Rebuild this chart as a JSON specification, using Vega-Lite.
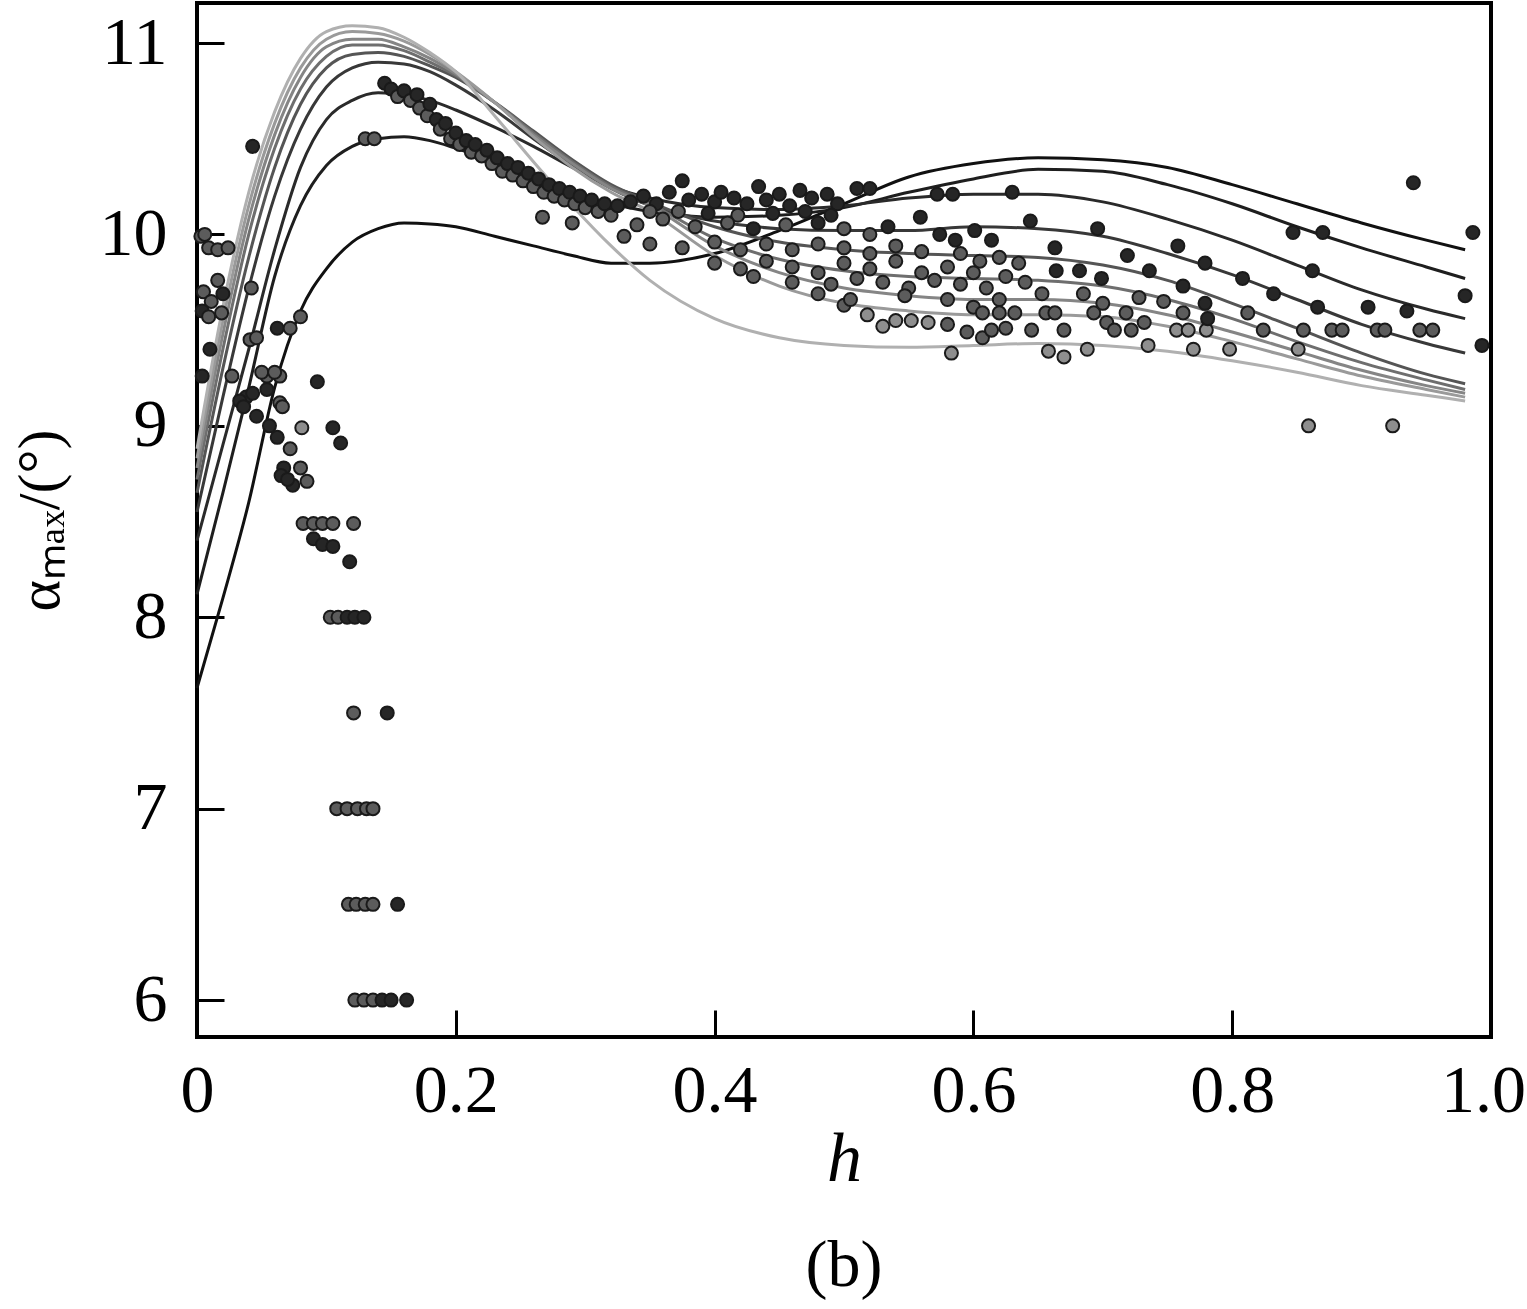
{
  "$schema": "https://vega.github.io/schema/vega-lite/v6.json",
  "width": 1294,
  "height": 1034,
  "autosize": {"type": "none"},
  "padding": {"left": 197, "top": 3, "right": 36, "bottom": 272},
  "background": "white",
  "config": {
    "font": "Liberation Serif",
    "view": {"stroke": "black", "strokeWidth": 4},
    "axis": {
      "domain": false,
      "grid": false,
      "tickColor": "black",
      "tickWidth": 3,
      "tickSize": -27,
      "labelColor": "black",
      "labelFont": "Liberation Serif",
      "labelFontSize": 68,
      "titleColor": "black",
      "titleFont": "Liberation Serif",
      "titleFontSize": 70,
      "titleFontWeight": "normal"
    }
  },
  "title": {
    "text": "(b)",
    "orient": "bottom",
    "anchor": "middle",
    "font": "Liberation Serif",
    "fontSize": 66,
    "fontWeight": "normal",
    "color": "black",
    "offset": 40
  },
  "datasets": {
    "curves": [
      {"s":1,"x":0,"y":7.63},{"s":1,"x":0.02,"y":8.10},{"s":1,"x":0.04,"y":8.60},{"s":1,"x":0.06,"y":9.20},{"s":1,"x":0.08,"y":9.60},{"s":1,"x":0.10,"y":9.82},{"s":1,"x":0.12,"y":9.96},{"s":1,"x":0.14,"y":10.03},{"s":1,"x":0.16,"y":10.06},{"s":1,"x":0.18,"y":10.055},{"s":1,"x":0.20,"y":10.04},{"s":1,"x":0.23,"y":9.99},{"s":1,"x":0.26,"y":9.94},{"s":1,"x":0.29,"y":9.89},{"s":1,"x":0.32,"y":9.85},{"s":1,"x":0.35,"y":9.85},{"s":1,"x":0.40,"y":9.90},{"s":1,"x":0.45,"y":10.02},{"s":1,"x":0.50,"y":10.16},{"s":1,"x":0.55,"y":10.30},{"s":1,"x":0.60,"y":10.37},{"s":1,"x":0.65,"y":10.40},{"s":1,"x":0.70,"y":10.39},{"s":1,"x":0.75,"y":10.35},{"s":1,"x":0.80,"y":10.26},{"s":1,"x":0.85,"y":10.16},{"s":1,"x":0.90,"y":10.06},{"s":1,"x":0.95,"y":9.97},{"s":1,"x":0.98,"y":9.92},
      {"s":2,"x":0,"y":8.12},{"s":2,"x":0.02,"y":8.65},{"s":2,"x":0.04,"y":9.20},{"s":2,"x":0.06,"y":9.78},{"s":2,"x":0.08,"y":10.15},{"s":2,"x":0.10,"y":10.36},{"s":2,"x":0.12,"y":10.46},{"s":2,"x":0.14,"y":10.50},{"s":2,"x":0.16,"y":10.51},{"s":2,"x":0.18,"y":10.49},{"s":2,"x":0.20,"y":10.45},{"s":2,"x":0.23,"y":10.38},{"s":2,"x":0.26,"y":10.30},{"s":2,"x":0.29,"y":10.22},{"s":2,"x":0.32,"y":10.16},{"s":2,"x":0.35,"y":10.12},{"s":2,"x":0.40,"y":10.09},{"s":2,"x":0.45,"y":10.10},{"s":2,"x":0.50,"y":10.14},{"s":2,"x":0.55,"y":10.22},{"s":2,"x":0.60,"y":10.29},{"s":2,"x":0.65,"y":10.34},{"s":2,"x":0.70,"y":10.33},{"s":2,"x":0.75,"y":10.26},{"s":2,"x":0.80,"y":10.16},{"s":2,"x":0.85,"y":10.04},{"s":2,"x":0.90,"y":9.93},{"s":2,"x":0.95,"y":9.83},{"s":2,"x":0.98,"y":9.77},
      {"s":3,"x":0,"y":8.40},{"s":3,"x":0.02,"y":8.90},{"s":3,"x":0.04,"y":9.40},{"s":3,"x":0.06,"y":9.92},{"s":3,"x":0.08,"y":10.35},{"s":3,"x":0.10,"y":10.60},{"s":3,"x":0.12,"y":10.70},{"s":3,"x":0.14,"y":10.74},{"s":3,"x":0.16,"y":10.73},{"s":3,"x":0.18,"y":10.70},{"s":3,"x":0.20,"y":10.65},{"s":3,"x":0.23,"y":10.56},{"s":3,"x":0.26,"y":10.46},{"s":3,"x":0.29,"y":10.35},{"s":3,"x":0.32,"y":10.25},{"s":3,"x":0.35,"y":10.19},{"s":3,"x":0.40,"y":10.14},{"s":3,"x":0.45,"y":10.13},{"s":3,"x":0.50,"y":10.15},{"s":3,"x":0.55,"y":10.19},{"s":3,"x":0.60,"y":10.21},{"s":3,"x":0.65,"y":10.21},{"s":3,"x":0.70,"y":10.17},{"s":3,"x":0.75,"y":10.08},{"s":3,"x":0.80,"y":9.97},{"s":3,"x":0.85,"y":9.84},{"s":3,"x":0.90,"y":9.71},{"s":3,"x":0.95,"y":9.61},{"s":3,"x":0.98,"y":9.56},
      {"s":4,"x":0,"y":8.55},{"s":4,"x":0.02,"y":9.15},{"s":4,"x":0.04,"y":9.72},{"s":4,"x":0.06,"y":10.20},{"s":4,"x":0.08,"y":10.55},{"s":4,"x":0.10,"y":10.77},{"s":4,"x":0.12,"y":10.87},{"s":4,"x":0.14,"y":10.90},{"s":4,"x":0.16,"y":10.89},{"s":4,"x":0.18,"y":10.85},{"s":4,"x":0.20,"y":10.78},{"s":4,"x":0.23,"y":10.65},{"s":4,"x":0.26,"y":10.50},{"s":4,"x":0.29,"y":10.36},{"s":4,"x":0.32,"y":10.24},{"s":4,"x":0.35,"y":10.15},{"s":4,"x":0.40,"y":10.07},{"s":4,"x":0.45,"y":10.03},{"s":4,"x":0.50,"y":10.02},{"s":4,"x":0.55,"y":10.02},{"s":4,"x":0.60,"y":10.04},{"s":4,"x":0.65,"y":10.03},{"s":4,"x":0.70,"y":9.99},{"s":4,"x":0.75,"y":9.90},{"s":4,"x":0.80,"y":9.79},{"s":4,"x":0.85,"y":9.66},{"s":4,"x":0.90,"y":9.53},{"s":4,"x":0.95,"y":9.43},{"s":4,"x":0.98,"y":9.38},
      {"s":5,"x":0,"y":8.65},{"s":5,"x":0.02,"y":9.30},{"s":5,"x":0.04,"y":9.88},{"s":5,"x":0.06,"y":10.35},{"s":5,"x":0.08,"y":10.68},{"s":5,"x":0.10,"y":10.87},{"s":5,"x":0.12,"y":10.94},{"s":5,"x":0.14,"y":10.95},{"s":5,"x":0.16,"y":10.93},{"s":5,"x":0.18,"y":10.88},{"s":5,"x":0.20,"y":10.82},{"s":5,"x":0.23,"y":10.69},{"s":5,"x":0.26,"y":10.54},{"s":5,"x":0.29,"y":10.39},{"s":5,"x":0.32,"y":10.26},{"s":5,"x":0.35,"y":10.17},{"s":5,"x":0.40,"y":10.04},{"s":5,"x":0.45,"y":9.96},{"s":5,"x":0.50,"y":9.92},{"s":5,"x":0.55,"y":9.90},{"s":5,"x":0.60,"y":9.89},{"s":5,"x":0.65,"y":9.88},{"s":5,"x":0.70,"y":9.84},{"s":5,"x":0.75,"y":9.76},{"s":5,"x":0.80,"y":9.64},{"s":5,"x":0.85,"y":9.51},{"s":5,"x":0.90,"y":9.38},{"s":5,"x":0.95,"y":9.27},{"s":5,"x":0.98,"y":9.22},
      {"s":6,"x":0,"y":8.72},{"s":6,"x":0.02,"y":9.40},{"s":6,"x":0.04,"y":10.00},{"s":6,"x":0.06,"y":10.45},{"s":6,"x":0.08,"y":10.76},{"s":6,"x":0.10,"y":10.93},{"s":6,"x":0.12,"y":10.99},{"s":6,"x":0.14,"y":10.99},{"s":6,"x":0.16,"y":10.96},{"s":6,"x":0.18,"y":10.90},{"s":6,"x":0.20,"y":10.83},{"s":6,"x":0.23,"y":10.69},{"s":6,"x":0.26,"y":10.53},{"s":6,"x":0.29,"y":10.38},{"s":6,"x":0.32,"y":10.25},{"s":6,"x":0.35,"y":10.16},{"s":6,"x":0.40,"y":9.98},{"s":6,"x":0.45,"y":9.87},{"s":6,"x":0.50,"y":9.81},{"s":6,"x":0.55,"y":9.78},{"s":6,"x":0.60,"y":9.77},{"s":6,"x":0.65,"y":9.76},{"s":6,"x":0.70,"y":9.73},{"s":6,"x":0.75,"y":9.66},{"s":6,"x":0.80,"y":9.56},{"s":6,"x":0.85,"y":9.44},{"s":6,"x":0.90,"y":9.33},{"s":6,"x":0.95,"y":9.24},{"s":6,"x":0.98,"y":9.19},
      {"s":7,"x":0,"y":8.78},{"s":7,"x":0.02,"y":9.48},{"s":7,"x":0.04,"y":10.08},{"s":7,"x":0.06,"y":10.52},{"s":7,"x":0.08,"y":10.82},{"s":7,"x":0.10,"y":10.98},{"s":7,"x":0.12,"y":11.02},{"s":7,"x":0.14,"y":11.02},{"s":7,"x":0.16,"y":10.98},{"s":7,"x":0.18,"y":10.92},{"s":7,"x":0.20,"y":10.84},{"s":7,"x":0.23,"y":10.69},{"s":7,"x":0.26,"y":10.52},{"s":7,"x":0.29,"y":10.37},{"s":7,"x":0.32,"y":10.24},{"s":7,"x":0.35,"y":10.15},{"s":7,"x":0.40,"y":9.94},{"s":7,"x":0.45,"y":9.80},{"s":7,"x":0.50,"y":9.72},{"s":7,"x":0.55,"y":9.68},{"s":7,"x":0.60,"y":9.66},{"s":7,"x":0.65,"y":9.66},{"s":7,"x":0.70,"y":9.64},{"s":7,"x":0.75,"y":9.58},{"s":7,"x":0.80,"y":9.49},{"s":7,"x":0.85,"y":9.39},{"s":7,"x":0.90,"y":9.29},{"s":7,"x":0.95,"y":9.21},{"s":7,"x":0.98,"y":9.17},
      {"s":8,"x":0,"y":8.83},{"s":8,"x":0.02,"y":9.55},{"s":8,"x":0.04,"y":10.15},{"s":8,"x":0.06,"y":10.58},{"s":8,"x":0.08,"y":10.87},{"s":8,"x":0.10,"y":11.02},{"s":8,"x":0.12,"y":11.06},{"s":8,"x":0.14,"y":11.05},{"s":8,"x":0.16,"y":11.01},{"s":8,"x":0.18,"y":10.94},{"s":8,"x":0.20,"y":10.85},{"s":8,"x":0.23,"y":10.69},{"s":8,"x":0.26,"y":10.51},{"s":8,"x":0.29,"y":10.35},{"s":8,"x":0.32,"y":10.22},{"s":8,"x":0.35,"y":10.12},{"s":8,"x":0.40,"y":9.89},{"s":8,"x":0.45,"y":9.73},{"s":8,"x":0.50,"y":9.64},{"s":8,"x":0.55,"y":9.60},{"s":8,"x":0.60,"y":9.58},{"s":8,"x":0.65,"y":9.58},{"s":8,"x":0.70,"y":9.57},{"s":8,"x":0.75,"y":9.52},{"s":8,"x":0.80,"y":9.44},{"s":8,"x":0.85,"y":9.35},{"s":8,"x":0.90,"y":9.26},{"s":8,"x":0.95,"y":9.19},{"s":8,"x":0.98,"y":9.15},
      {"s":9,"x":0,"y":8.88},{"s":9,"x":0.02,"y":9.62},{"s":9,"x":0.04,"y":10.22},{"s":9,"x":0.06,"y":10.64},{"s":9,"x":0.08,"y":10.92},{"s":9,"x":0.10,"y":11.06},{"s":9,"x":0.12,"y":11.09},{"s":9,"x":0.14,"y":11.08},{"s":9,"x":0.16,"y":11.03},{"s":9,"x":0.18,"y":10.95},{"s":9,"x":0.20,"y":10.85},{"s":9,"x":0.23,"y":10.62},{"s":9,"x":0.26,"y":10.38},{"s":9,"x":0.29,"y":10.15},{"s":9,"x":0.32,"y":9.94},{"s":9,"x":0.35,"y":9.76},{"s":9,"x":0.40,"y":9.56},{"s":9,"x":0.45,"y":9.46},{"s":9,"x":0.50,"y":9.42},{"s":9,"x":0.55,"y":9.41},{"s":9,"x":0.60,"y":9.42},{"s":9,"x":0.65,"y":9.43},{"s":9,"x":0.70,"y":9.42},{"s":9,"x":0.75,"y":9.39},{"s":9,"x":0.80,"y":9.34},{"s":9,"x":0.85,"y":9.28},{"s":9,"x":0.90,"y":9.21},{"s":9,"x":0.95,"y":9.16},{"s":9,"x":0.98,"y":9.13}
    ],
    "pts": [
      {"x":0.003,"y":9.99,"g":"m"},{"x":0.006,"y":10.0,"g":"m"},{"x":0.009,"y":9.93,"g":"m"},{"x":0.016,"y":9.92,"g":"m"},{"x":0.024,"y":9.93,"g":"m"},
      {"x":0.016,"y":9.76,"g":"m"},{"x":0.005,"y":9.70,"g":"m"},{"x":0.020,"y":9.69,"g":"d"},{"x":0.011,"y":9.65,"g":"m"},{"x":0.004,"y":9.60,"g":"d"},{"x":0.019,"y":9.59,"g":"m"},{"x":0.009,"y":9.57,"g":"m"},{"x":0.042,"y":9.72,"g":"m"},
      {"x":0.010,"y":9.40,"g":"d"},{"x":0.004,"y":9.26,"g":"d"},{"x":0.027,"y":9.26,"g":"m"},{"x":0.043,"y":10.46,"g":"d"},
      {"x":0.041,"y":9.45,"g":"m"},{"x":0.046,"y":9.46,"g":"m"},{"x":0.054,"y":9.26,"g":"m"},{"x":0.064,"y":9.26,"g":"m"},{"x":0.038,"y":9.15,"g":"d"},{"x":0.093,"y":9.23,"g":"d"},
      {"x":0.062,"y":9.51,"g":"d"},{"x":0.072,"y":9.51,"g":"m"},{"x":0.080,"y":9.57,"g":"m"},
      {"x":0.033,"y":9.13,"g":"d"},{"x":0.043,"y":9.17,"g":"d"},{"x":0.054,"y":9.19,"g":"d"},{"x":0.064,"y":9.12,"g":"m"},{"x":0.036,"y":9.10,"g":"d"},{"x":0.046,"y":9.05,"g":"d"},{"x":0.056,"y":9.00,"g":"d"},{"x":0.062,"y":8.94,"g":"d"},{"x":0.050,"y":9.28,"g":"m"},{"x":0.060,"y":9.28,"g":"m"},{"x":0.066,"y":9.10,"g":"m"},
      {"x":0.081,"y":8.99,"g":"l"},{"x":0.105,"y":8.99,"g":"d"},{"x":0.111,"y":8.91,"g":"d"},{"x":0.072,"y":8.88,"g":"m"},
      {"x":0.067,"y":8.78,"g":"d"},{"x":0.080,"y":8.78,"g":"m"},{"x":0.074,"y":8.69,"g":"d"},{"x":0.085,"y":8.71,"g":"m"},{"x":0.065,"y":8.74,"g":"d"},{"x":0.070,"y":8.72,"g":"d"},
      {"x":0.082,"y":8.49,"g":"m"},{"x":0.090,"y":8.49,"g":"m"},{"x":0.097,"y":8.49,"g":"m"},{"x":0.105,"y":8.49,"g":"m"},{"x":0.121,"y":8.49,"g":"m"},
      {"x":0.090,"y":8.41,"g":"d"},{"x":0.097,"y":8.38,"g":"d"},{"x":0.105,"y":8.37,"g":"d"},{"x":0.118,"y":8.29,"g":"d"},
      {"x":0.103,"y":8.0,"g":"m"},{"x":0.109,"y":8.0,"g":"m"},{"x":0.116,"y":8.0,"g":"d"},{"x":0.122,"y":8.0,"g":"d"},{"x":0.129,"y":8.0,"g":"d"},
      {"x":0.121,"y":7.5,"g":"m"},{"x":0.147,"y":7.5,"g":"d"},
      {"x":0.108,"y":7.0,"g":"m"},{"x":0.116,"y":7.0,"g":"m"},{"x":0.124,"y":7.0,"g":"m"},{"x":0.131,"y":7.0,"g":"m"},{"x":0.136,"y":7.0,"g":"m"},
      {"x":0.117,"y":6.5,"g":"m"},{"x":0.123,"y":6.5,"g":"m"},{"x":0.130,"y":6.5,"g":"m"},{"x":0.136,"y":6.5,"g":"m"},{"x":0.155,"y":6.5,"g":"d"},
      {"x":0.122,"y":6.0,"g":"m"},{"x":0.129,"y":6.0,"g":"m"},{"x":0.136,"y":6.0,"g":"m"},{"x":0.143,"y":6.0,"g":"d"},{"x":0.150,"y":6.0,"g":"d"},{"x":0.162,"y":6.0,"g":"d"},
      {"x":0.130,"y":10.50,"g":"m"},{"x":0.137,"y":10.50,"g":"m"},
      {"x":0.145,"y":10.79,"g":"d"},{"x":0.150,"y":10.76,"g":"d"},{"x":0.155,"y":10.72,"g":"m"},{"x":0.160,"y":10.75,"g":"d"},{"x":0.165,"y":10.70,"g":"m"},{"x":0.170,"y":10.73,"g":"d"},{"x":0.172,"y":10.66,"g":"m"},{"x":0.178,"y":10.62,"g":"m"},{"x":0.180,"y":10.68,"g":"d"},{"x":0.185,"y":10.60,"g":"d"},{"x":0.188,"y":10.55,"g":"m"},{"x":0.192,"y":10.58,"g":"d"},{"x":0.196,"y":10.50,"g":"m"},{"x":0.200,"y":10.53,"g":"d"},{"x":0.203,"y":10.47,"g":"m"},{"x":0.208,"y":10.49,"g":"d"},{"x":0.212,"y":10.43,"g":"m"},{"x":0.215,"y":10.47,"g":"d"},{"x":0.220,"y":10.41,"g":"m"},{"x":0.224,"y":10.44,"g":"d"},{"x":0.228,"y":10.37,"g":"m"},{"x":0.232,"y":10.40,"g":"d"},{"x":0.236,"y":10.33,"g":"m"},{"x":0.240,"y":10.37,"g":"d"},{"x":0.244,"y":10.31,"g":"m"},{"x":0.248,"y":10.35,"g":"d"},{"x":0.252,"y":10.28,"g":"m"},{"x":0.256,"y":10.32,"g":"d"},{"x":0.260,"y":10.25,"g":"m"},{"x":0.264,"y":10.29,"g":"d"},{"x":0.268,"y":10.22,"g":"m"},{"x":0.272,"y":10.26,"g":"d"},{"x":0.276,"y":10.20,"g":"m"},{"x":0.280,"y":10.24,"g":"d"},{"x":0.284,"y":10.18,"g":"m"},{"x":0.288,"y":10.22,"g":"d"},{"x":0.292,"y":10.16,"g":"m"},{"x":0.296,"y":10.20,"g":"d"},{"x":0.300,"y":10.14,"g":"m"},{"x":0.305,"y":10.18,"g":"d"},{"x":0.310,"y":10.12,"g":"m"},{"x":0.315,"y":10.16,"g":"d"},{"x":0.320,"y":10.10,"g":"m"},{"x":0.325,"y":10.15,"g":"d"},
      {"x":0.267,"y":10.09,"g":"m"},{"x":0.290,"y":10.06,"g":"m"},
      {"x":0.335,"y":10.17,"g":"d"},{"x":0.345,"y":10.20,"g":"d"},{"x":0.355,"y":10.16,"g":"d"},{"x":0.365,"y":10.22,"g":"d"},{"x":0.375,"y":10.28,"g":"d"},{"x":0.380,"y":10.18,"g":"d"},{"x":0.390,"y":10.21,"g":"d"},{"x":0.400,"y":10.17,"g":"d"},{"x":0.405,"y":10.22,"g":"d"},{"x":0.415,"y":10.19,"g":"d"},{"x":0.425,"y":10.16,"g":"d"},{"x":0.434,"y":10.25,"g":"d"},{"x":0.440,"y":10.18,"g":"d"},{"x":0.450,"y":10.21,"g":"d"},{"x":0.458,"y":10.15,"g":"d"},{"x":0.466,"y":10.23,"g":"d"},{"x":0.475,"y":10.19,"g":"d"},{"x":0.487,"y":10.21,"g":"d"},{"x":0.495,"y":10.16,"g":"d"},{"x":0.510,"y":10.24,"g":"d"},{"x":0.520,"y":10.24,"g":"d"},
      {"x":0.350,"y":10.12,"g":"m"},{"x":0.372,"y":10.12,"g":"m"},{"x":0.395,"y":10.11,"g":"d"},{"x":0.418,"y":10.10,"g":"m"},{"x":0.445,"y":10.11,"g":"d"},{"x":0.470,"y":10.12,"g":"d"},{"x":0.490,"y":10.10,"g":"d"},
      {"x":0.340,"y":10.05,"g":"m"},{"x":0.360,"y":10.08,"g":"m"},{"x":0.385,"y":10.04,"g":"m"},{"x":0.410,"y":10.06,"g":"m"},{"x":0.430,"y":10.03,"g":"d"},{"x":0.455,"y":10.05,"g":"m"},{"x":0.480,"y":10.06,"g":"d"},{"x":0.500,"y":10.03,"g":"m"},{"x":0.520,"y":10.00,"g":"m"},{"x":0.534,"y":10.04,"g":"d"},{"x":0.559,"y":10.09,"g":"d"},
      {"x":0.330,"y":9.99,"g":"m"},{"x":0.350,"y":9.95,"g":"m"},{"x":0.375,"y":9.93,"g":"m"},{"x":0.400,"y":9.96,"g":"m"},{"x":0.420,"y":9.92,"g":"m"},{"x":0.440,"y":9.95,"g":"m"},{"x":0.460,"y":9.92,"g":"m"},{"x":0.480,"y":9.95,"g":"m"},{"x":0.500,"y":9.93,"g":"m"},{"x":0.520,"y":9.90,"g":"m"},{"x":0.540,"y":9.94,"g":"m"},{"x":0.560,"y":9.91,"g":"m"},
      {"x":0.400,"y":9.85,"g":"m"},{"x":0.420,"y":9.82,"g":"m"},{"x":0.440,"y":9.86,"g":"m"},{"x":0.460,"y":9.83,"g":"m"},{"x":0.480,"y":9.80,"g":"m"},{"x":0.500,"y":9.85,"g":"m"},{"x":0.520,"y":9.82,"g":"m"},{"x":0.540,"y":9.86,"g":"m"},{"x":0.560,"y":9.80,"g":"m"},{"x":0.580,"y":9.83,"g":"m"},
      {"x":0.430,"y":9.78,"g":"m"},{"x":0.460,"y":9.75,"g":"m"},{"x":0.490,"y":9.74,"g":"m"},{"x":0.510,"y":9.77,"g":"m"},{"x":0.530,"y":9.75,"g":"m"},{"x":0.550,"y":9.72,"g":"m"},{"x":0.570,"y":9.76,"g":"m"},{"x":0.590,"y":9.74,"g":"m"},{"x":0.610,"y":9.72,"g":"m"},
      {"x":0.480,"y":9.69,"g":"m"},{"x":0.500,"y":9.63,"g":"m"},{"x":0.505,"y":9.66,"g":"m"},{"x":0.547,"y":9.68,"g":"m"},{"x":0.580,"y":9.66,"g":"m"},{"x":0.600,"y":9.62,"g":"m"},{"x":0.620,"y":9.66,"g":"m"},
      {"x":0.590,"y":9.90,"g":"m"},{"x":0.605,"y":9.86,"g":"m"},{"x":0.620,"y":9.88,"g":"m"},{"x":0.635,"y":9.85,"g":"m"},{"x":0.600,"y":9.80,"g":"m"},{"x":0.625,"y":9.78,"g":"m"},{"x":0.640,"y":9.75,"g":"m"},
      {"x":0.518,"y":9.58,"g":"l"},{"x":0.530,"y":9.52,"g":"l"},{"x":0.540,"y":9.55,"g":"l"},{"x":0.552,"y":9.55,"g":"l"},{"x":0.565,"y":9.54,"g":"l"},{"x":0.580,"y":9.53,"g":"m"},{"x":0.595,"y":9.49,"g":"m"},{"x":0.607,"y":9.46,"g":"m"},{"x":0.583,"y":9.38,"g":"l"},{"x":0.607,"y":9.59,"g":"m"},{"x":0.620,"y":9.59,"g":"m"},{"x":0.632,"y":9.59,"g":"m"},{"x":0.614,"y":9.50,"g":"m"},{"x":0.625,"y":9.51,"g":"m"},
      {"x":0.653,"y":9.69,"g":"m"},{"x":0.656,"y":9.59,"g":"m"},{"x":0.645,"y":9.50,"g":"m"},{"x":0.663,"y":9.59,"g":"m"},{"x":0.670,"y":9.50,"g":"m"},{"x":0.658,"y":9.39,"g":"l"},{"x":0.670,"y":9.36,"g":"l"},{"x":0.688,"y":9.40,"g":"l"},
      {"x":0.685,"y":9.69,"g":"m"},{"x":0.693,"y":9.59,"g":"m"},{"x":0.700,"y":9.64,"g":"m"},{"x":0.703,"y":9.54,"g":"m"},{"x":0.709,"y":9.50,"g":"m"},{"x":0.718,"y":9.59,"g":"m"},{"x":0.722,"y":9.50,"g":"m"},{"x":0.732,"y":9.54,"g":"m"},{"x":0.728,"y":9.67,"g":"m"},{"x":0.747,"y":9.65,"g":"m"},{"x":0.757,"y":9.50,"g":"l"},{"x":0.766,"y":9.50,"g":"l"},{"x":0.735,"y":9.42,"g":"l"},{"x":0.770,"y":9.40,"g":"l"},{"x":0.762,"y":9.59,"g":"m"},{"x":0.780,"y":9.50,"g":"l"},{"x":0.798,"y":9.40,"g":"l"},{"x":0.812,"y":9.59,"g":"m"},{"x":0.824,"y":9.50,"g":"m"},{"x":0.851,"y":9.40,"g":"l"},{"x":0.855,"y":9.50,"g":"m"},{"x":0.877,"y":9.50,"g":"m"},{"x":0.885,"y":9.50,"g":"m"},{"x":0.912,"y":9.50,"g":"m"},{"x":0.918,"y":9.50,"g":"m"},{"x":0.945,"y":9.50,"g":"m"},{"x":0.955,"y":9.50,"g":"m"},
      {"x":0.859,"y":9.0,"g":"l"},{"x":0.924,"y":9.0,"g":"l"},
      {"x":0.572,"y":10.21,"g":"d"},{"x":0.584,"y":10.21,"g":"d"},{"x":0.630,"y":10.22,"g":"d"},{"x":0.644,"y":10.07,"g":"d"},{"x":0.574,"y":10.00,"g":"d"},{"x":0.586,"y":9.97,"g":"d"},{"x":0.601,"y":10.02,"g":"d"},{"x":0.614,"y":9.97,"g":"d"},{"x":0.663,"y":9.93,"g":"d"},{"x":0.664,"y":9.81,"g":"d"},{"x":0.696,"y":10.03,"g":"d"},{"x":0.719,"y":9.89,"g":"d"},{"x":0.758,"y":9.94,"g":"d"},
      {"x":0.682,"y":9.81,"g":"d"},{"x":0.699,"y":9.77,"g":"d"},{"x":0.736,"y":9.81,"g":"d"},{"x":0.779,"y":9.85,"g":"d"},{"x":0.808,"y":9.77,"g":"d"},{"x":0.832,"y":9.69,"g":"d"},{"x":0.866,"y":9.62,"g":"d"},{"x":0.862,"y":9.81,"g":"d"},{"x":0.847,"y":10.01,"g":"d"},{"x":0.870,"y":10.01,"g":"d"},{"x":0.940,"y":10.27,"g":"d"},{"x":0.986,"y":10.01,"g":"d"},{"x":0.980,"y":9.68,"g":"d"},{"x":0.993,"y":9.42,"g":"d"},{"x":0.905,"y":9.62,"g":"d"},{"x":0.935,"y":9.60,"g":"d"},{"x":0.762,"y":9.73,"g":"d"},{"x":0.779,"y":9.64,"g":"d"},{"x":0.781,"y":9.56,"g":"d"}
    ]
  },
  "layer": [
    {
      "data": {"name": "curves"},
      "mark": {"type": "line", "interpolate": "monotone", "strokeWidth": 3},
      "encoding": {
        "x": {
          "field": "x",
          "type": "quantitative",
          "scale": {"domain": [0, 1], "nice": false, "zero": false},
          "axis": {
            "title": "h",
            "titleFontStyle": "italic",
            "titlePadding": 0,
            "values": [0, 0.2, 0.4, 0.6, 0.8, 1.0],
            "labelExpr": "datum.value == 0 ? '0' : format(datum.value, '.1f')",
            "labelPadding": 47,
            "labelOffset": {"condition": {"test": "datum.value == 1", "value": -8}, "value": 0},
            "labelFlush": false,
            "labelOverlap": false
          }
        },
        "y": {
          "field": "y",
          "type": "quantitative",
          "scale": {"domain": [5.807, 11.209], "nice": false, "zero": false},
          "axis": {
            "title": "αₘₐₓ/(°)",
            "titleFontSize": 60,
            "titlePadding": 28,
            "values": [6, 7, 8, 9, 10, 11],
            "format": "d",
            "labelPadding": 57,
            "labelFlush": false
          }
        },
        "color": {
          "field": "s",
          "type": "nominal",
          "scale": {
            "domain": [1, 2, 3, 4, 5, 6, 7, 8, 9],
            "range": ["#111111", "#1e1e1e", "#2a2a2a", "#383838", "#555555", "#6e6e6e", "#858585", "#9a9a9a", "#b0b0b0"]
          },
          "legend": null
        }
      }
    },
    {
      "data": {"name": "pts"},
      "mark": {"type": "circle", "size": 170, "opacity": 1, "stroke": "#1a1a1a", "strokeWidth": 2},
      "encoding": {
        "x": {"field": "x", "type": "quantitative"},
        "y": {"field": "y", "type": "quantitative"},
        "fill": {
          "field": "g",
          "type": "nominal",
          "scale": {"domain": ["d", "m", "l"], "range": ["#262626", "#5c5c5c", "#8e8e8e"]},
          "legend": null
        }
      }
    }
  ]
}
